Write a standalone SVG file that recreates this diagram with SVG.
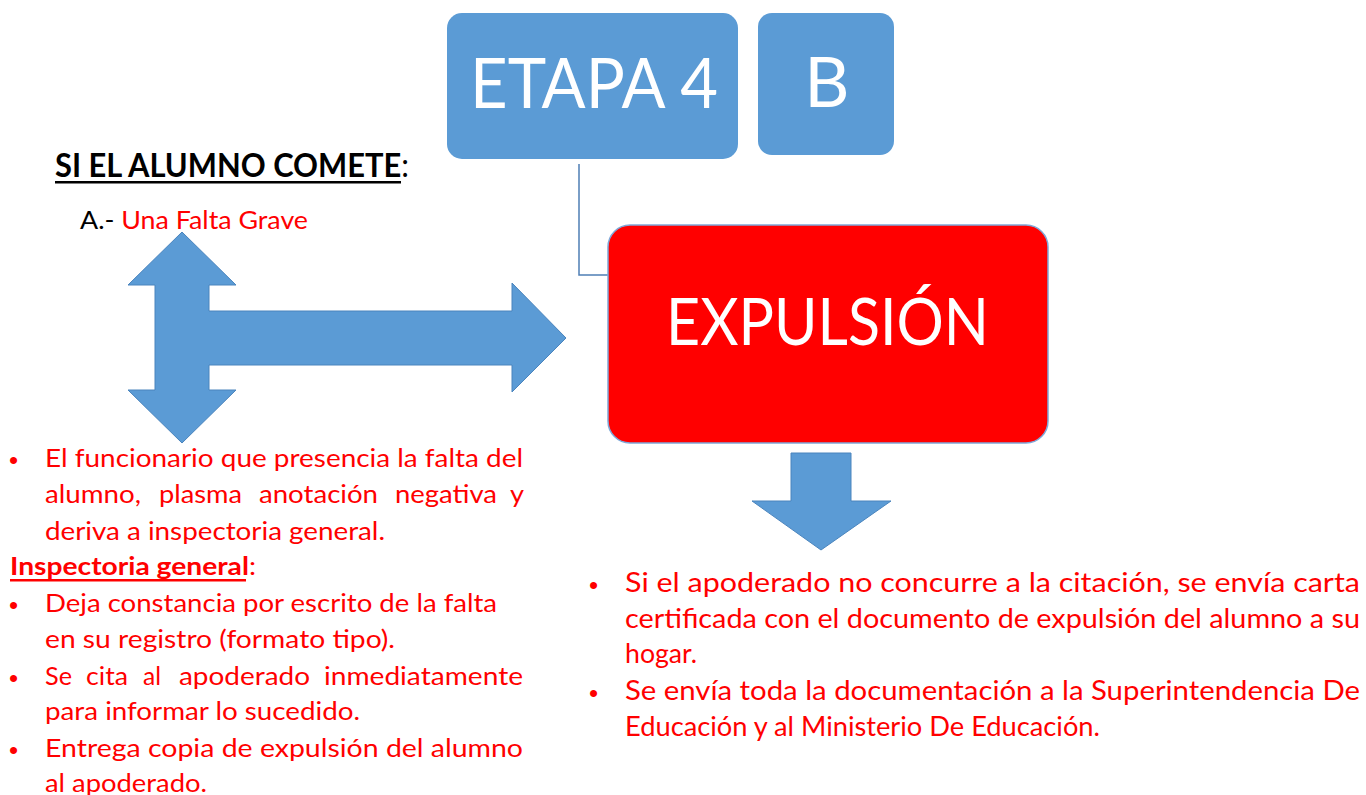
<svg xmlns="http://www.w3.org/2000/svg" width="1366" height="795" viewBox="0 0 1366 795">
<style>
.box{fill:#5b9bd5;}
.big{font-family:Lato,"Open Sans","Liberation Sans",sans-serif;fill:#ffffff;}
.arrow{fill:#5b9bd5;stroke:#4a84bd;stroke-width:1;}
.red{font-family:Lato,"Open Sans","Liberation Sans",sans-serif;font-size:25px;fill:#ff0000;}
.redr{font-family:Lato,"Open Sans","Liberation Sans",sans-serif;font-size:26px;fill:#ff0000;}
.blk{font-family:Lato,"Open Sans","Liberation Sans",sans-serif;fill:#000000;}
.bul{font-family:"Liberation Sans",sans-serif;font-size:26px;fill:#ff0000;}
</style>
<rect width="1366" height="795" fill="#ffffff"/>
<g id="connectors">
<polyline points="579,164 579,275 610,275" fill="none" stroke="#4f7fb5" stroke-width="1.5"/>
</g>
<g id="etapa">
<rect class="box" x="447" y="13" width="291" height="146" rx="15"/>
<text class="big" x="470" y="108" font-size="70" textLength="248" lengthAdjust="spacingAndGlyphs">ETAPA 4</text>
</g>
<g id="b">
<rect class="box" x="758" y="13" width="136" height="142" rx="14"/>
<text class="big" x="827" y="107" font-size="70" text-anchor="middle">B</text>
</g>
<g id="expulsion">
<rect x="608" y="225" width="440" height="218" rx="22" fill="#ff0000" stroke="#7fa8d8" stroke-width="1.5"/>
<text class="big" x="666" y="345" font-size="66" textLength="323" lengthAdjust="spacingAndGlyphs">EXPULSIÓN</text>
</g>
<g id="header">
<text class="blk" x="55" y="177" font-size="32" font-weight="bold" textLength="354" lengthAdjust="spacingAndGlyphs">SI EL ALUMNO COMETE<tspan font-weight="normal">:</tspan></text>
<rect x="55" y="181" width="346" height="2.5" fill="#000"/>
<text class="blk" x="80" y="229" font-size="25" textLength="228" lengthAdjust="spacingAndGlyphs">A.- <tspan fill="#ff0000">Una Falta Grave</tspan></text>
</g>
<g id="cross-arrow">
<polygon class="arrow" points="182,232 236,285 209,285 209,311 512,311 512,283 566,338 512,392 512,365 209,365 209,390 236,390 182,443 128,390 155,390 155,285 128,285"/>
</g>
<g id="down-arrow">
<polygon class="arrow" points="791,453 851,453 851,501 891,501 821,550 752,501 791,501"/>
</g>
<g id="left-text">
<text class="bul" x="9" y="469">•</text>
<text class="bul" x="9" y="614">•</text>
<text class="bul" x="9" y="687">•</text>
<text class="bul" x="9" y="759">•</text>
<text class="red" x="45" y="467" textLength="478" lengthAdjust="spacingAndGlyphs">El funcionario que presencia la falta del</text>
<text class="red" x="45" y="503" textLength="96" lengthAdjust="spacingAndGlyphs">alumno,</text>
<text class="red" x="159" y="503" textLength="83" lengthAdjust="spacingAndGlyphs">plasma</text>
<text class="red" x="259" y="503" textLength="119" lengthAdjust="spacingAndGlyphs">anotación</text>
<text class="red" x="395" y="503" textLength="102" lengthAdjust="spacingAndGlyphs">negativa</text>
<text class="red" x="510" y="503" textLength="14" lengthAdjust="spacingAndGlyphs">y</text>
<text class="red" x="45" y="540" textLength="340" lengthAdjust="spacingAndGlyphs">deriva a inspectoria general.</text>
<text class="red" x="10" y="575" font-weight="bold" textLength="246" lengthAdjust="spacingAndGlyphs">Inspectoria general<tspan font-weight="normal">:</tspan></text>
<rect x="10" y="579" width="236" height="2.5" fill="#ff0000"/>
<text class="red" x="45" y="612" textLength="452" lengthAdjust="spacingAndGlyphs">Deja constancia por escrito de la falta</text>
<text class="red" x="45" y="648" textLength="350" lengthAdjust="spacingAndGlyphs">en su registro (formato tipo).</text>
<text class="red" x="45" y="685" textLength="27" lengthAdjust="spacingAndGlyphs">Se</text>
<text class="red" x="86" y="685" textLength="42" lengthAdjust="spacingAndGlyphs">cita</text>
<text class="red" x="143" y="685" textLength="18" lengthAdjust="spacingAndGlyphs">al</text>
<text class="red" x="179" y="685" textLength="131" lengthAdjust="spacingAndGlyphs">apoderado</text>
<text class="red" x="324" y="685" textLength="199" lengthAdjust="spacingAndGlyphs">inmediatamente</text>
<text class="red" x="45" y="720" textLength="315" lengthAdjust="spacingAndGlyphs">para informar lo sucedido.</text>
<text class="red" x="45" y="757" textLength="478" lengthAdjust="spacingAndGlyphs">Entrega copia de expulsión del alumno</text>
<text class="red" x="45" y="792" textLength="162" lengthAdjust="spacingAndGlyphs">al apoderado.</text>
</g>
<g id="right-text">
<text class="bul" x="589" y="594">•</text>
<text class="bul" x="589" y="702">•</text>
<text class="redr" x="625" y="592" textLength="735" lengthAdjust="spacingAndGlyphs">Si el apoderado no concurre a la citación, se envía carta</text>
<text class="redr" x="625" y="628" textLength="735" lengthAdjust="spacingAndGlyphs">certificada con el documento de expulsión del alumno a su</text>
<text class="redr" x="625" y="663" textLength="72" lengthAdjust="spacingAndGlyphs">hogar.</text>
<text class="redr" x="625" y="700" textLength="735" lengthAdjust="spacingAndGlyphs">Se envía toda la documentación a la Superintendencia De</text>
<text class="redr" x="625" y="736" textLength="475" lengthAdjust="spacingAndGlyphs">Educación y al Ministerio De Educación.</text>
</g>
</svg>
